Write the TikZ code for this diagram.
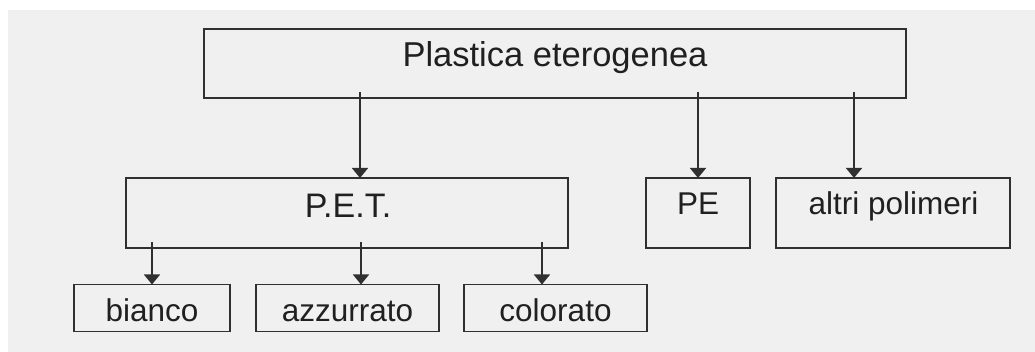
\documentclass[tikz,border=0pt]{standalone}
\usepackage{fontspec}
\setmainfont{Liberation Sans}
\usetikzlibrary{arrows.meta}
\definecolor{bggray}{HTML}{F0F0F0}
\definecolor{linec}{HTML}{303030}
\definecolor{textc}{HTML}{202020}
\begin{document}
\begin{tikzpicture}[x=1pt,y=-1pt,
  boxnode/.style={draw=linec,line width=1.5pt,inner sep=0pt,outer sep=0pt},
  bigtxt/.style={anchor=base,inner sep=0pt,text=textc,font=\fontsize{34.5}{38}\selectfont},
  pettxt/.style={anchor=base,inner sep=0pt,text=textc,font=\fontsize{34}{38}\selectfont},
  smalltxt/.style={anchor=base,inner sep=0pt,text=textc,font=\fontsize{31.5}{34}\selectfont},
  arr/.style={draw=linec,line width=1.5pt,-{Triangle[width=16pt,length=10pt]}}]
\useasboundingbox (0,0) rectangle (1035,352);
\fill[white] (0,0) rectangle (1035,352);
\fill[bggray] (8,10) rectangle (1035,352);
% boxes
\node[boxnode,minimum width=702pt,minimum height=69pt] (top) at (555,63.5) {};
\node[boxnode,minimum width=442pt,minimum height=70pt] (pet) at (347,213) {};
\node[boxnode,minimum width=104pt,minimum height=70pt] (pe) at (698,213) {};
\node[boxnode,minimum width=234pt,minimum height=70pt] (altri) at (893,213) {};
\node[boxnode,minimum width=156pt,minimum height=47pt] (bianco) at (152,308) {};
\node[boxnode,minimum width=183pt,minimum height=47pt] (azz) at (347.5,308) {};
\node[boxnode,minimum width=183pt,minimum height=47pt] (col) at (555.5,308) {};
% texts
\node[bigtxt] (ttop) at (555,67) {Plastica eterogenea};
\node[pettxt] (tpet) at (348,218) {P.E.T.};
\node[smalltxt] (tpe) at (698,215) {PE};
\node[smalltxt] (taltri) at (893.5,215) {altri polimeri};
\node[smalltxt] (tbianco) at (152,322) {bianco};
\node[smalltxt] (tazz) at (347.5,322) {azzurrato};
\node[smalltxt] (tcol) at (555.5,322) {colorato};
% arrow starts
\coordinate (s1) at (360,92);
\coordinate (s2) at (698,92);
\coordinate (s3) at (854,92);
\coordinate (s4) at (152,242);
\coordinate (s5) at (361,242);
\coordinate (s6) at (542,242);
\draw[arr] (s1) -- (s1 |- pet.north);
\draw[arr] (s2) -- (s2 |- pe.north);
\draw[arr] (s3) -- (s3 |- altri.north);
\draw[arr] (s4) -- (s4 |- bianco.north);
\draw[arr] (s5) -- (s5 |- azz.north);
\draw[arr] (s6) -- (s6 |- col.north);
\end{tikzpicture}
\end{document}
